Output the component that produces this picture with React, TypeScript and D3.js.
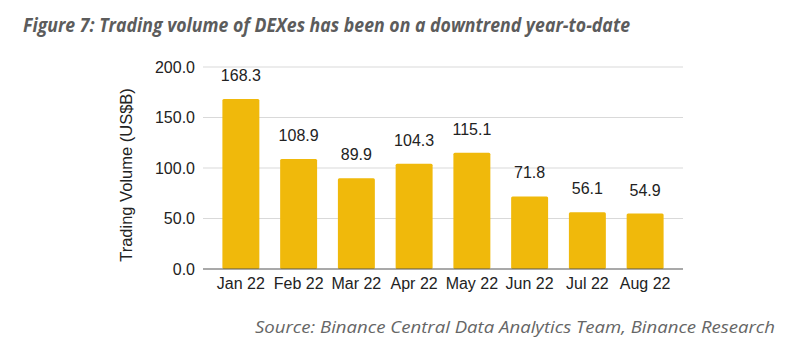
import React from "react";
import * as d3 from "d3";

const categories = ["Jan 22", "Feb 22", "Mar 22", "Apr 22", "May 22", "Jun 22", "Jul 22", "Aug 22"];
const volumes = [168.3, 108.9, 89.9, 104.3, 115.1, 71.8, 56.1, 54.9];
const yTicks = [0, 50, 100, 150, 200];

const title = "Figure 7: Trading volume of DEXes has been on a downtrend year-to-date";
const source = "Source: Binance Central Data Analytics Team, Binance Research";
const yLabel = "Trading Volume (US$B)";

export default function App() {
  const W = 800, H = 356;
  const gridX0 = 203, gridX1 = 683;
  const x = d3.scaleBand<string>().domain(categories).range([212, 674]).paddingInner(0.36).paddingOuter(0.18);
  const y = d3.scaleLinear().domain([0, 200]).range([269, 67]);
  const font = "Liberation Sans, Arial, sans-serif";
  return (
    <svg width={W} height={H} style={{ position: "absolute", left: 0, top: 0, background: "#fff" }}>
      <text x={23} y={31.5} fontFamily="Open Sans, sans-serif" fontStyle="italic" fontWeight={700} fontSize={19} fill="#5c5c5c" textLength={607} lengthAdjust="spacingAndGlyphs">{title}</text>
      {yTicks.map(t => (
        <g key={t}>
          {t !== 0 && <line x1={gridX0} x2={gridX1} y1={y(t)} y2={y(t)} stroke="#d9d9d9" strokeWidth={1} />}
          <text x={195} y={y(t)} dy="0.35em" textAnchor="end" fontFamily={font} fontSize={16} fill="#222">{t.toFixed(1)}</text>
        </g>
      ))}
      {categories.map((c, i) => (
        <g key={c}>
          <rect x={x(c)} y={y(volumes[i])} width={x.bandwidth()} height={y(0) - y(volumes[i])} fill="#F0B90B" rx={1.5} />
          <text x={x(c)! + x.bandwidth() / 2} y={y(volumes[i]) - 18} textAnchor="middle" fontFamily={font} fontSize={16} fill="#222">{volumes[i].toFixed(1)}</text>
          <text x={x(c)! + x.bandwidth() / 2} y={289} textAnchor="middle" fontFamily={font} fontSize={16} fill="#222">{c}</text>
        </g>
      ))}
      <line x1={gridX0} x2={gridX1} y1={y(0)} y2={y(0)} stroke="#555" strokeWidth={1.2} />
      <text transform={`translate(132,175) rotate(-90)`} textAnchor="middle" fontFamily={font} fontSize={16.5} fill="#222">{yLabel}</text>
      <text x={255} y={333} fontFamily="Open Sans, sans-serif" fontStyle="italic" fontSize={17} fill="#666" textLength={520} lengthAdjust="spacingAndGlyphs">{source}</text>
    </svg>
  );
}
